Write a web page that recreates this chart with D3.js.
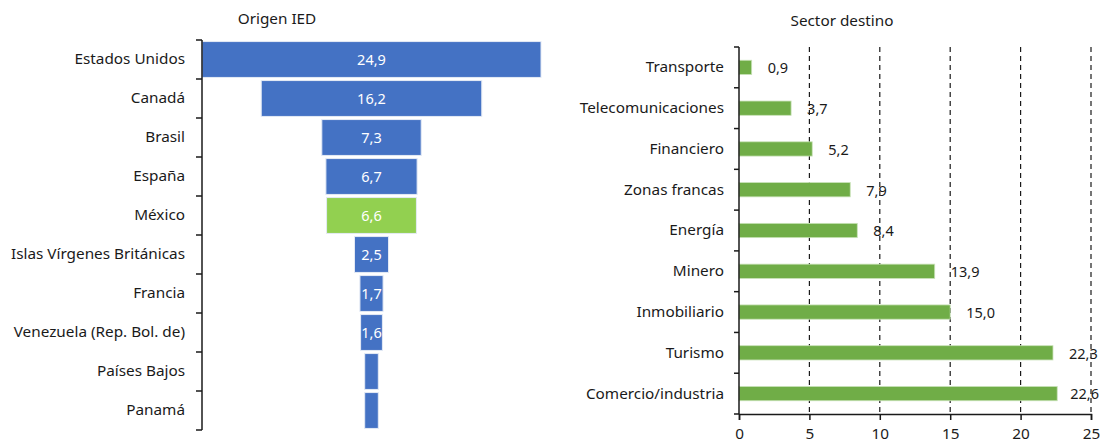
<!DOCTYPE html>
<html>
<head>
<meta charset="utf-8">
<script src="https://cdn.jsdelivr.net/npm/d3@7"></script>
<style>
  body { margin: 0; background: #fff; }
  svg text { font-family: "Noto Sans", "Open Sans", sans-serif; fill: #1a1a1a; }
  .axis path, .axis line { stroke: #1a1a1a; }
</style>
</head>
<body>
<div id="chart"></div>
<script>
// origen de la IED (funnel)
var paises = ["Estados Unidos", "Canadá", "Brasil", "España", "México", "Islas Vírgenes Británicas",
              "Francia", "Venezuela (Rep. Bol. de)", "Países Bajos", "Panamá"];
var origenValores = [24.9, 16.2, 7.3, 6.7, 6.6, 2.5, 1.7, 1.6, 1.0, 1.0];
var paisDestacado = "México";

// sector destino
var sectores = ["Transporte", "Telecomunicaciones", "Financiero", "Zonas francas", "Energía",
                "Minero", "Inmobiliario", "Turismo", "Comercio/industria"];
var sectorValores = [0.9, 3.7, 5.2, 7.9, 8.4, 13.9, 15.0, 22.3, 22.6];
var sectorTicks = [0, 5, 10, 15, 20, 25];

var fmt = function(v) { return d3.format(".1f")(v).replace(".", ","); };
var fs = "15.3px";

var svg = d3.select("#chart").append("svg")
    .attr("width", 1102)
    .attr("height", 444);

// ---------- panel izquierdo ----------
var left = {x0: 202, top: 40, bottom: 430};
var origen = paises.map(function(p, i) { return {pais: p, valor: origenValores[i]}; });

var xL = d3.scaleLinear().domain([0, d3.max(origenValores)]).range([0, 339]);
var yL = d3.scaleBand().domain(paises).range([left.top, left.bottom]).paddingInner(0.08).paddingOuter(0.04);
var centro = left.x0 + xL(d3.max(origenValores)) / 2;

svg.append("text")
    .attr("x", 277).attr("y", 24)
    .attr("text-anchor", "middle")
    .style("font-size", fs)
    .text("Origen IED");

var gL = svg.append("g");

gL.selectAll(".barL")
    .data(origen)
  .enter().append("rect")
    .attr("class", "barL")
    .attr("x", function(d) { return centro - xL(d.valor) / 2; })
    .attr("y", function(d) { return yL(d.pais); })
    .attr("width", function(d) { return xL(d.valor); })
    .attr("height", yL.bandwidth())
    .attr("fill", function(d) { return d.pais === paisDestacado ? "#92D050" : "#4472C4"; })
    .attr("stroke", "#e4eaf5")
    .attr("stroke-width", 1);

gL.selectAll(".valL")
    .data(origen.filter(function(d) { return xL(d.valor) > 18; }))
  .enter().append("text")
    .attr("class", "valL")
    .attr("x", centro)
    .attr("y", function(d) { return yL(d.pais) + yL.bandwidth() / 2; })
    .attr("dy", "0.35em")
    .attr("text-anchor", "middle")
    .style("font-size", "14.5px")
    .style("fill", "#fff")
    .text(function(d) { return fmt(d.valor); });

// eje izquierdo: etiquetas y marcas entre categorias
var axisL = gL.append("g")
    .attr("class", "axis")
    .attr("transform", "translate(" + left.x0 + ",0)")
    .call(d3.axisLeft(yL).tickSize(0).tickPadding(17));
axisL.select(".domain").remove();
axisL.selectAll("text").style("font-size", fs).style("fill", "#1a1a1a");

var bordesL = d3.range(paises.length + 1).map(function(i) { return left.top + i * (left.bottom - left.top) / paises.length; });
gL.append("line")
    .attr("x1", left.x0).attr("x2", left.x0)
    .attr("y1", left.top).attr("y2", left.bottom)
    .attr("stroke", "#1a1a1a").attr("stroke-width", 1.5);
gL.selectAll(".tickL")
    .data(bordesL)
  .enter().append("line")
    .attr("x1", left.x0 - 6).attr("x2", left.x0)
    .attr("y1", function(d) { return d; }).attr("y2", function(d) { return d; })
    .attr("stroke", "#1a1a1a").attr("stroke-width", 1.5);

// ---------- panel derecho ----------
var right = {x0: 739, x1: 1091, top: 47, bottom: 414};
var sector = sectores.map(function(s, i) { return {sector: s, valor: sectorValores[i]}; });

var xR = d3.scaleLinear().domain([0, 25]).range([right.x0, right.x1]);
var yR = d3.scaleBand().domain(sectores).range([right.top, right.bottom]).paddingInner(0.65).paddingOuter(0.325);

svg.append("text")
    .attr("x", 842).attr("y", 26)
    .attr("text-anchor", "middle")
    .style("font-size", fs)
    .text("Sector destino");

var gR = svg.append("g");

// lineas de cuadricula discontinuas
gR.selectAll(".grid")
    .data(sectorTicks.slice(1))
  .enter().append("line")
    .attr("class", "grid")
    .attr("x1", function(d) { return xR(d); }).attr("x2", function(d) { return xR(d); })
    .attr("y1", right.top).attr("y2", right.bottom)
    .attr("stroke", "#1a1a1a")
    .attr("stroke-width", 1.2)
    .attr("stroke-dasharray", "5,4");

gR.selectAll(".barR")
    .data(sector)
  .enter().append("rect")
    .attr("class", "barR")
    .attr("x", right.x0)
    .attr("y", function(d) { return yR(d.sector); })
    .attr("width", function(d) { return xR(d.valor) - right.x0; })
    .attr("height", yR.bandwidth())
    .attr("fill", "#70AD47")
    .attr("stroke", "#c9e2b8")
    .attr("stroke-width", 0.8);

var valR = gR.selectAll(".valR")
    .data(sector)
  .enter().append("text")
    .attr("class", "valR")
    .attr("y", function(d) { return yR(d.sector) + yR.bandwidth() / 2; })
    .attr("dy", "0.4em")
    .style("font-size", "14.5px")
    .text(function(d) { return fmt(d.valor); });
valR.attr("x", function(d) {
    var w = this.getComputedTextLength();
    return Math.min(xR(d.valor) + 16, 1099 - w);
});

var axisRy = gR.append("g")
    .attr("class", "axis")
    .attr("transform", "translate(" + right.x0 + ",0)")
    .call(d3.axisLeft(yR).tickSize(0).tickPadding(15));
axisRy.select(".domain").remove();
axisRy.selectAll("text").style("font-size", fs).style("fill", "#1a1a1a");

var bordesR = d3.range(sectores.length + 1).map(function(i) { return right.top + i * (right.bottom - right.top) / sectores.length; });
gR.selectAll(".tickR")
    .data(bordesR)
  .enter().append("line")
    .attr("x1", right.x0 - 5).attr("x2", right.x0)
    .attr("y1", function(d) { return d; }).attr("y2", function(d) { return d; })
    .attr("stroke", "#1a1a1a").attr("stroke-width", 1.5);
gR.append("line")
    .attr("x1", right.x0).attr("x2", right.x0)
    .attr("y1", right.top).attr("y2", right.bottom)
    .attr("stroke", "#1a1a1a").attr("stroke-width", 1.5);

var axisRx = gR.append("g")
    .attr("class", "axis")
    .attr("transform", "translate(0," + right.bottom + ")")
    .call(d3.axisBottom(xR).tickValues(sectorTicks).tickSize(6).tickPadding(8).tickFormat(d3.format("d")));
axisRx.select(".domain").attr("stroke-width", 1.5);
axisRx.selectAll("line").attr("stroke-width", 1.5);
axisRx.selectAll("text").style("font-size", fs).style("fill", "#1a1a1a");
</script>
</body>
</html>
